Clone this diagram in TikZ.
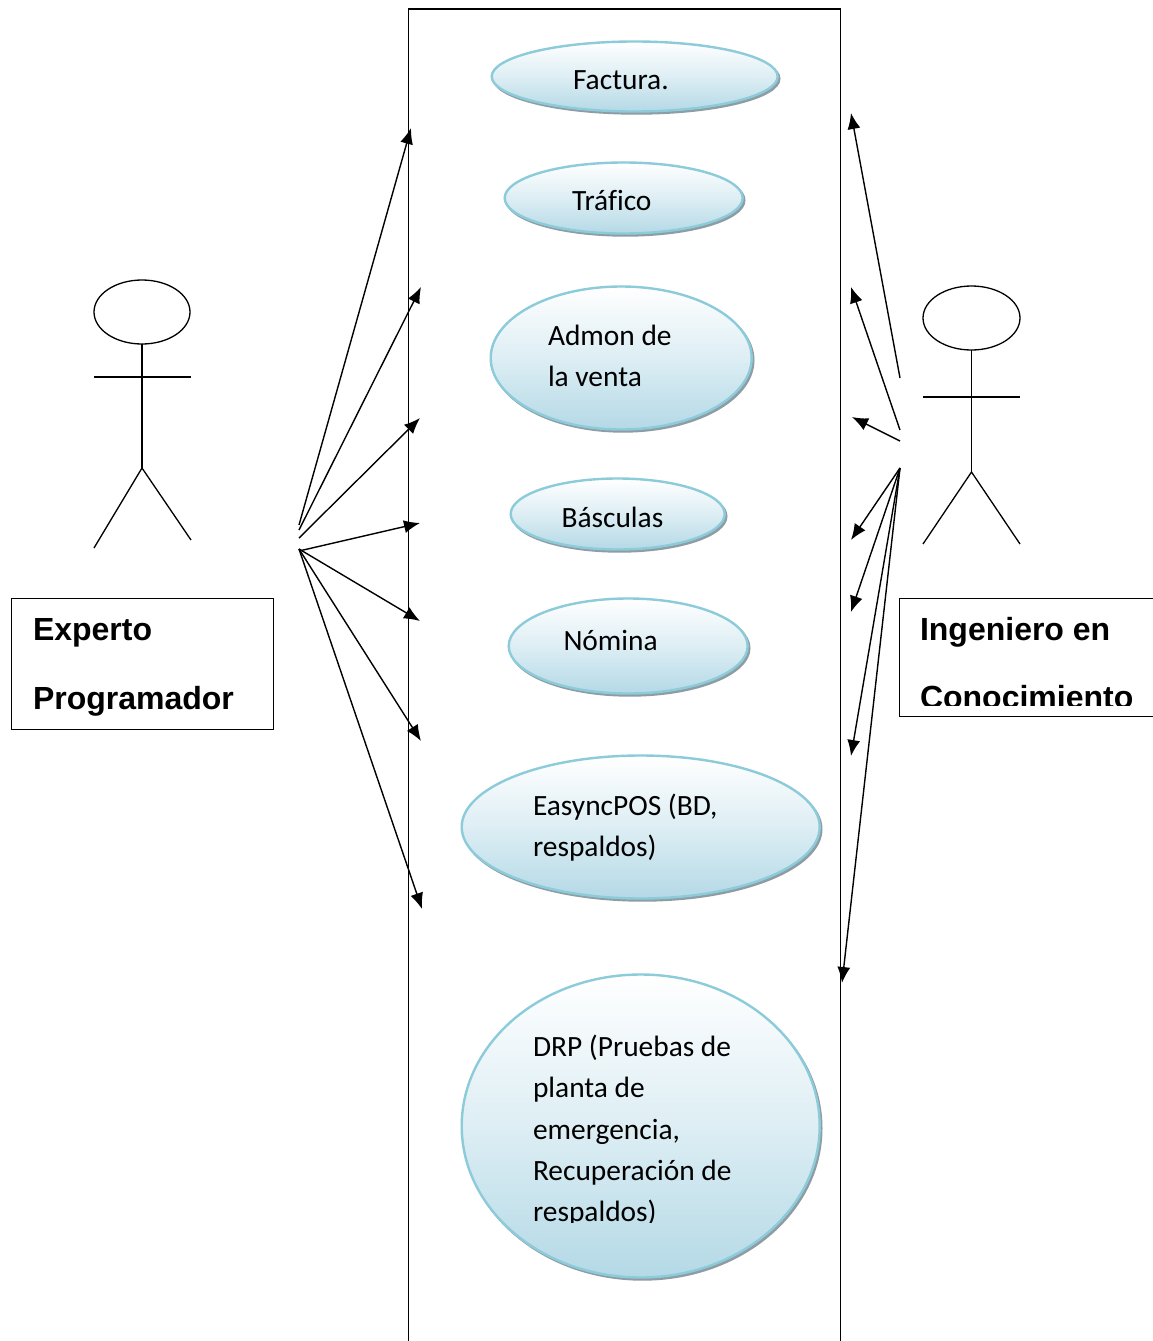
\documentclass[tikz,border=0pt]{standalone}
\usepackage{fontspec}
\setmainfont[Ligatures=NoCommon]{Carlito}
\newfontfamily\boldsans[Scale=1]{Liberation Sans}
\usetikzlibrary{arrows.meta,shapes.geometric,shadows}
\definecolor{ovalline}{HTML}{8CCBDA}
\definecolor{ovalbottom}{HTML}{B4D9E6}
\definecolor{ovalshadow}{HTML}{8E9CA3}
\tikzset{
  oval/.style={ellipse,inner sep=0pt,outer sep=0pt,draw=ovalline,line width=2.4pt,
    top color=white,bottom color=ovalbottom,middle color=ovalbottom!45!white,
    copy shadow={draw=ovalshadow,fill=ovalshadow,line width=2pt,shadow xshift=1.8pt,shadow yshift=-2.2pt,opacity=1}},
  lbl/.style={anchor=base west,inner sep=0pt,outer sep=0pt,font=\fontsize{29.4pt}{29.4pt}\selectfont,text=black},
  actorlbl/.style={anchor=base west,inner sep=0pt,outer sep=0pt,font=\boldsans\bfseries\fontsize{32pt}{32pt}\selectfont,text=black},
  linework/.style={draw=black,line width=1.3pt},
  arrowline/.style={draw=black,line width=1.4pt,-{Latex[length=16pt,width=13pt]}},
  frame/.style={draw=black,line width=1.2pt,fill=white,outer sep=0pt},
}
\begin{document}
\begin{tikzpicture}[x=1pt,y=-1pt]
\useasboundingbox (0,0) rectangle (1152,1341);
\fill[white] (0,0) rectangle (1152,1341);
% system boundary
\coordinate (sysTL) at (408.5,9);
\coordinate (sysBL) at (408.5,1345);
\coordinate (sysTR) at (840.5,9);
\coordinate (sysBR) at (840.5,1345);
\draw[linework,line width=1.2pt] (sysBL) -- (sysTL) -- (sysTR) -- (sysBR);
% ovals
\node[oval,minimum width=286pt,minimum height=70pt] (factura) at (634.7,76.5) {};
\node[oval,minimum width=238pt,minimum height=71pt] (trafico) at (623.7,198) {};
\node[oval,minimum width=261pt,minimum height=143pt] (admon) at (621.2,358) {};
\node[oval,minimum width=214pt,minimum height=71pt] (basculas) at (617.7,514) {};
\node[oval,minimum width=239pt,minimum height=95pt] (nomina) at (628.2,646) {};
\node[oval,minimum width=358pt,minimum height=143pt] (easync) at (640.7,827) {};
\node[oval,minimum width=358pt,minimum height=303pt] (drp) at (640.7,1126) {};
% oval labels
\node[lbl] (tfactura) at (573,89) {Factura.};
\node[lbl] (ttrafico) at (572,210) {Tráfico};
\node[lbl] (tadmonA) at (548,345) {Admon de};
\node[lbl] (tadmonB) at (548,386) {la venta};
\node[lbl] (tbasculas) at (561.5,527) {Básculas};
\node[lbl] (tnomina) at (563.5,650) {Nómina};
\node[lbl] (teasyA) at (533,815) {EasyncPOS (BD,};
\node[lbl] (teasyB) at (533,856) {respaldos)};
\node[lbl] (tdrpA) at (533,1056) {DRP (Pruebas de};
\node[lbl] (tdrpB) at (533,1097) {planta de};
\node[lbl] (tdrpC) at (533,1139) {emergencia,};
\node[lbl] (tdrpD) at (533,1180) {Recuperación de};
\begin{scope}
\clip (500,1191) rectangle (780,1222);
\node[lbl] (tdrpE) at (533,1221) {respaldos)};
\end{scope}
% left actor
\node[ellipse,draw=black,line width=1.3pt,inner sep=0pt,outer sep=0pt,minimum width=96pt,minimum height=64pt] (headL) at (142,312) {};
\coordinate (hipL) at (142,468);
\coordinate (armLa) at (94,377);
\coordinate (armLb) at (191,377);
\coordinate (legLa) at (94,548);
\coordinate (legLb) at (191,540);
\draw[linework] (headL.south) -- (hipL);
\draw[linework] (armLa) -- (armLb);
\draw[linework] (legLa) -- (hipL) -- (legLb);
% right actor
\node[ellipse,draw=black,line width=1.3pt,inner sep=0pt,outer sep=0pt,minimum width=97pt,minimum height=64pt] (headR) at (971.5,318) {};
\coordinate (hipR) at (971.5,472);
\coordinate (armRa) at (923,397);
\coordinate (armRb) at (1020,397);
\coordinate (legRa) at (923,544);
\coordinate (legRb) at (1020,544);
\draw[linework] (headR.south) -- (hipR);
\draw[linework] (armRa) -- (armRb);
\draw[linework] (legRa) -- (hipR) -- (legRb);
% actor boxes
\node[frame,anchor=north west,inner sep=0pt,minimum width=262pt,minimum height=131pt] (boxL) at (11.5,598.5) {};
\node[actorlbl] (texp) at (33,640) {Experto};
\node[actorlbl] (tprog) at (33,709) {Programador};
\node[frame,anchor=north west,inner sep=0pt,minimum width=270pt,minimum height=118pt] (boxR) at (899.5,598.5) {};
\node[actorlbl] (ting) at (920,640) {Ingeniero en};
\begin{scope}
\clip (905,670) rectangle (1152,705.5);
\node[actorlbl] (tcon) at (920,708) {Conocimiento};
\end{scope}
% left connectors
\coordinate (la1) at (299,525); \coordinate (lb1) at (411,128);
\coordinate (la2) at (299,530); \coordinate (lb2) at (421,287);
\coordinate (la3) at (299,538); \coordinate (lb3) at (420,418);
\coordinate (la4) at (299,551); \coordinate (lb4) at (420,523);
\coordinate (la5) at (299,549); \coordinate (lb5) at (420,621);
\coordinate (la6) at (299,549); \coordinate (lb6) at (421,741);
\coordinate (la7) at (299,549); \coordinate (lb7) at (422,909);
\foreach \i in {1,...,7} {\draw[arrowline] (la\i) -- (lb\i);}
% right connectors
\coordinate (ra1) at (900,378); \coordinate (rb1) at (851,113);
\coordinate (ra2) at (900,430); \coordinate (rb2) at (851,287);
\coordinate (ra3) at (900,441); \coordinate (rb3) at (852,417);
\coordinate (ra4) at (900,468); \coordinate (rb4) at (851,540);
\coordinate (ra5) at (900,468); \coordinate (rb5) at (851,612);
\coordinate (ra6) at (900,468); \coordinate (rb6) at (851,756);
\coordinate (ra7) at (900,468); \coordinate (rb7) at (842,983);
\foreach \i in {1,...,7} {\draw[arrowline] (ra\i) -- (rb\i);}
\end{tikzpicture}
\end{document}
